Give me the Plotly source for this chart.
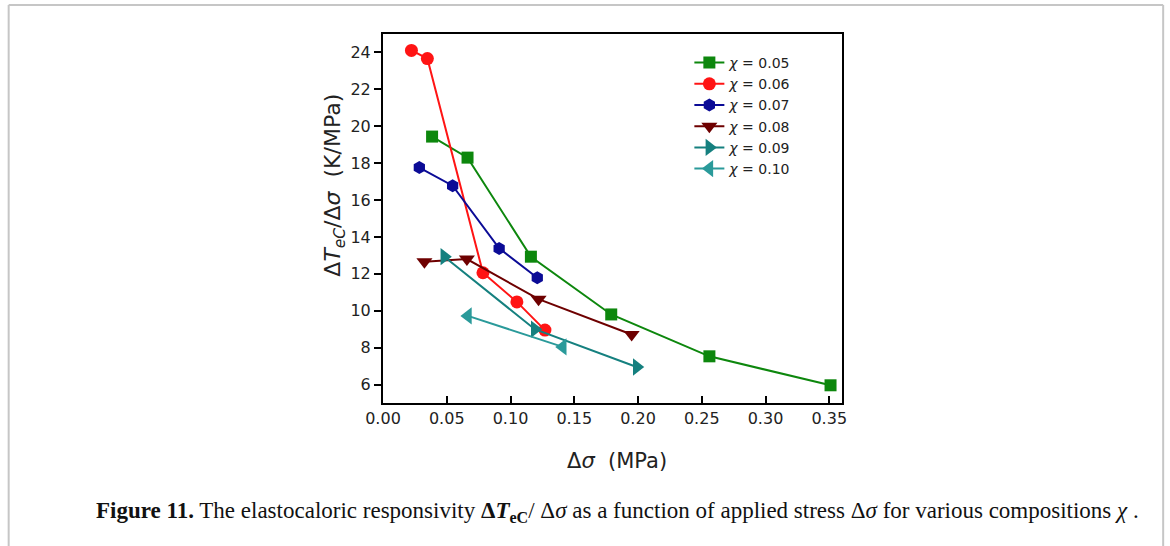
import plotly.graph_objects as go

# ---- data ----
sig_005 = [0.0385, 0.0663, 0.116, 0.179, 0.256, 0.351]
resp_005 = [19.44, 18.30, 12.93, 9.80, 7.53, 5.96]
sig_006 = [0.0223, 0.0348, 0.0784, 0.105, 0.127]
resp_006 = [24.11, 23.67, 12.06, 10.48, 8.95]
sig_007 = [0.0285, 0.0546, 0.0911, 0.121]
resp_007 = [17.76, 16.78, 13.38, 11.79]
sig_008 = [0.0325, 0.0658, 0.122, 0.195]
resp_008 = [12.65, 12.80, 10.63, 8.71]
sig_009 = [0.0481, 0.119, 0.199]
resp_009 = [12.93, 9.00, 6.95]
sig_010 = [0.0666, 0.141]
resp_010 = [9.72, 8.04]

labels = ["0.05", "0.06", "0.07", "0.08", "0.09", "0.10"]
xs = [sig_005, sig_006, sig_007, sig_008, sig_009, sig_010]
ys = [resp_005, resp_006, resp_007, resp_008, resp_009, resp_010]
symbols = ["square", "circle", "hexagon", "triangle-down", "triangle-right", "triangle-left"]
colors = ["#0d870d", "#ff1414", "#0b0b96", "#6e0000", "#15807f", "#2a9a9a"]
sizes = [12, 13, 13, 14, 15, 15]

x_ticks = [0.00, 0.05, 0.10, 0.15, 0.20, 0.25, 0.30, 0.35]
y_ticks = [6, 8, 10, 12, 14, 16, 18, 20, 22, 24]

# ---- layout geometry (pixels) ----
FW, FH = 1170, 546
L, R, T, B = 382.5, 841.7, 34, 402.7
PW, PH = R - L, B - T


def px(x):
    return (x - L) / PW


def py(y):
    return (B - y) / PH


fig = go.Figure()
for xv, yv, lab, sym, col, sz in zip(xs, ys, labels, symbols, colors, sizes):
    fig.add_trace(go.Scatter(
        x=xv, y=yv, mode="lines+markers",
        name="<i>χ</i> = " + lab,
        line=dict(color=col, width=2),
        marker=dict(symbol=sym, size=sz, color=col, line=dict(width=0)),
    ))

tickfont = dict(family="DejaVu Sans", size=16, color="#222222")
fig.update_xaxes(
    range=[0, 0.36], tickvals=x_ticks, tickformat=".2f",
    showline=True, linecolor="black", linewidth=2, mirror=True,
    ticks="inside", ticklen=7, tickwidth=1.5, tickcolor="black",
    showgrid=False, zeroline=False, tickfont=tickfont,
)
fig.update_yaxes(
    range=[5, 25], tickvals=y_ticks,
    showline=True, linecolor="black", linewidth=2, mirror=True,
    ticks="outside", ticklen=7, tickwidth=1.5, tickcolor="black",
    showgrid=False, zeroline=False, tickfont=tickfont,
)

annotations = [
    dict(x=px(334), y=py(185), xref="paper", yref="paper", textangle=-90,
         text="Δ<i>T</i><sub><i>eC</i></sub>/Δ<i>σ</i>  (K/MPa)", showarrow=False,
         font=dict(family="DejaVu Sans", size=22, color="#222222"),
         xanchor="center", yanchor="middle"),
    dict(x=px(617), y=py(461), xref="paper", yref="paper",
         text="Δ<i>σ</i>  (MPa)", showarrow=False,
         font=dict(family="DejaVu Sans", size=21, color="#222222"),
         xanchor="center", yanchor="middle"),
    dict(x=px(93), y=py(512), xref="paper", yref="paper",
         text="<b>Figure 11.</b> The elastocaloric responsivity <b>Δ<i>T</i><sub>eC</sub></b>/ Δ<i>σ</i> as a function of applied stress Δ<i>σ</i> for various compositions <i>χ</i> .",
         showarrow=False, font=dict(family="Liberation Serif", size=23, color="#111111"),
         xanchor="left", yanchor="middle"),
]

shapes = [
    dict(type="line", xref="paper", yref="paper", x0=px(8), x1=px(8), y0=py(5), y1=py(560),
         line=dict(color="#c6c6c6", width=2)),
    dict(type="line", xref="paper", yref="paper", x0=px(8), x1=px(1163), y0=py(5), y1=py(5),
         line=dict(color="#c6c6c6", width=2)),
    dict(type="line", xref="paper", yref="paper", x0=px(1163), x1=px(1163), y0=py(5), y1=py(560),
         line=dict(color="#c6c6c6", width=2)),
]

fig.update_layout(
    width=FW, height=FH,
    margin=dict(l=L, r=FW - R, t=T, b=FH - B, pad=0),
    paper_bgcolor="white", plot_bgcolor="white",
    showlegend=True,
    legend=dict(x=px(689), y=py(47), xanchor="left", yanchor="top",
                bgcolor="rgba(0,0,0,0)", borderwidth=0,
                font=dict(family="DejaVu Sans", size=14, color="#222222"),
                itemwidth=30),
    annotations=annotations, shapes=shapes,
)

fig.write_html("out.html", config={"displayModeBar": False},
               post_script="document.body.style.margin='0';")
